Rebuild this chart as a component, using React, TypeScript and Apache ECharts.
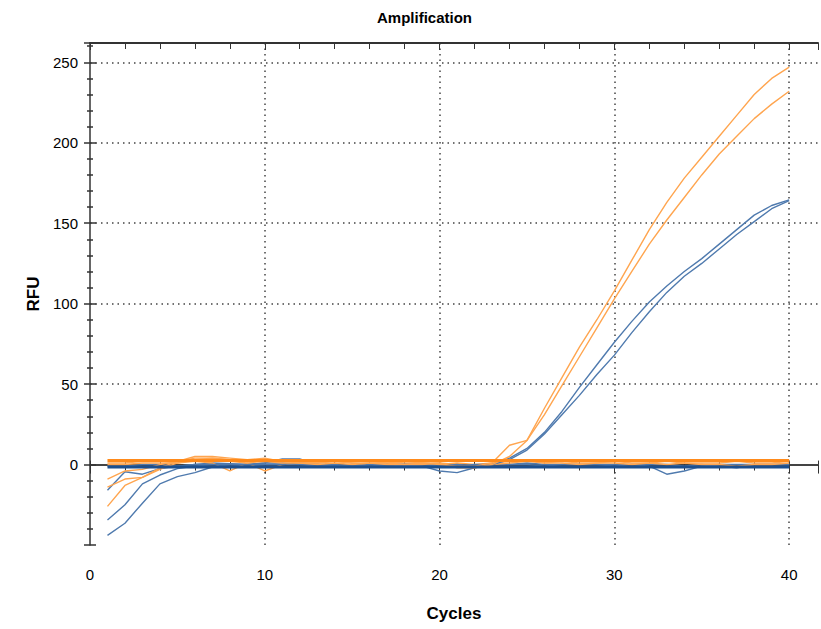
import React, { useEffect, useRef } from "react";
import * as echarts from "echarts";

const cycles = Array.from({ length: 40 }, (_, i) => i + 1);

const orangeUpper = [-26, -13, -8, -3, 1, 3, 3, 2, 1, 2, 1, 1, 0, 1, 0, 1, 0, 0, 1, 0, -1, -1, 1, 12, 15, 35, 54, 73, 90, 108, 127, 146, 163, 178, 191, 204, 217, 230, 240, 247];
const orangeLower = [-14, -9, -8, -2, 2, 4, 4, 3, 2, 3, 2, 1, 1, 2, 1, 1, 1, 0, 0, 1, -2, -2, 0, 5, 15, 31, 49, 67, 85, 103, 120, 137, 152, 166, 180, 193, 204, 215, 224, 232];
const orangeFlatA = [-9, -4, -3, 0, 2, 5, 5, 4, 3, 4, 2, 2, 1, 3, 2, 2, 1, 2, 1, 1, 0, -2, 0, 1, 2, 1, 2, 1, 1, 2, 1, 1, 2, 1, 1, 1, 2, 1, 1, 2];
const orangeFlatB = [0, 0, 1, 1, 1, 2, 1, -4, 1, -4, 0, 1, 1, 2, 1, 0, 2, 1, 1, 0, 1, 0, 1, 2, 3, 1, 1, 0, 1, 1, 0, 1, 0, 1, 0, 0, -1, 0, 0, 1];
const orangeFlatC = [1, 1, 2, 2, 3, 3, 4, 3, 3, 3, 2, 3, 2, 2, 3, 2, 3, 2, 2, 2, 3, 2, 2, 3, 2, 2, 3, 2, 2, 3, 2, 2, 2, 2, 3, 2, 2, 2, 2, 2];

const blueUpper = [-34.5, -25, -12, -6.5, -2.5, -1, 0, 0, 0, 1, 1, 0, 0, -1, 0, -1, 0, 0, 0, 0, -1, 0, 0, 4, 10, 20, 33, 48, 62, 76, 89, 101, 111, 120, 128, 137, 146, 155, 161, 164.5];
const blueLower = [-44, -36.5, -24, -12, -7.5, -5, -1.5, 0, 0, 0, 0, 1, 0, 0, -1, 0, 0, 0, 0, -1, 0, -1, 0, 3, 9, 19, 31, 43, 56, 68, 82, 95, 107, 117, 125, 134, 143, 151, 159, 164];
const blueFlatA = [-16, -4.5, -6, -2.5, -1, 0, 1, 0.5, 0, 1, 3.5, 3.5, 0, -1, -1, -1.5, 0, 0, -1, -4, -5, -2, 0, 0, 1, 0, 0, 0, 0, 0, 0, -1, -6, -4, -1, 0, 0, 0, 0, 0];
const blueFlatB = [-1, -1, 0, 0, -1, 0, 0, 0, -1, 0, 0, 0, -1, -1, 0, 0, 0, -1, 0, 0, -1, -1, 0, 0, 0, -1, 0, 0, 0, -1, 0, 0, 0, -1, 0, -1, -2, 0, 0, 0];

const orangeThreshold = 2.5;
const blueThreshold = -1.5;

const FONT = "'Liberation Sans', Arial, sans-serif";
const X_MAX = 41.65;

function App() {
  const ref = useRef<HTMLDivElement>(null);
  useEffect(() => {
    document.body.style.margin = "0";
    const chart = echarts.init(ref.current!, undefined, { renderer: "svg" });
    const pts = (arr: number[]) => arr.map((v, i) => [cycles[i], v]);
    const curve = (name: string, arr: number[], color: string) => ({
      name,
      type: "line",
      data: pts(arr),
      showSymbol: false,
      symbol: "none",
      lineStyle: { color, width: 1.4 },
      xAxisIndex: 0,
      yAxisIndex: 0,
      z: 3,
    });
    const thresh = (name: string, v: number, color: string) => ({
      name,
      type: "line",
      data: [[cycles[0], v], [cycles[cycles.length - 1], v]],
      showSymbol: false,
      symbol: "none",
      lineStyle: { color, width: 3 },
      xAxisIndex: 0,
      yAxisIndex: 0,
      z: 4,
    });
    const orange = "#FFA54F";
    const blue = "#4F7AAE";
    const xBase = { type: "value", min: 0, max: X_MAX, interval: 10 };
    const yBase = { type: "value", min: -50, max: 262, interval: 50 };
    chart.setOption({
      animation: false,
      backgroundColor: "#ffffff",
      title: {
        text: "Amplification",
        left: 372,
        top: 5,
        textStyle: { fontFamily: FONT, fontWeight: "bold", fontSize: 15, color: "#000" },
      },
      grid: { left: 90, right: 0, top: 43, bottom: 84, containLabel: false },
      xAxis: [
        {
          ...xBase,
          position: "bottom",
          name: "Cycles",
          nameLocation: "middle",
          nameGap: 60,
          nameTextStyle: { fontFamily: FONT, fontWeight: "bold", fontSize: 17, color: "#000" },
          axisLine: { show: true, lineStyle: { color: "#444", width: 2 } },
          axisTick: { show: true, inside: false, length: 9, lineStyle: { color: "#333" } },
          minorTick: { show: true, splitNumber: 5, length: 6, lineStyle: { color: "#333" } },
          axisLabel: {
            margin: 22,
            fontFamily: FONT,
            fontSize: 15,
            color: "#000",
            formatter: (v: number) => (v % 10 === 0 ? String(v) : ""),
          },
          splitLine: {
            show: true,
            showMaxLine: false,
            showMinLine: false,
            lineStyle: { color: "#444", type: [1.5, 4], width: 1.5 },
          },
        },
        {
          ...xBase,
          position: "bottom",
          axisLine: { show: false },
          axisTick: { show: true, inside: true, length: 4, lineStyle: { color: "#333" } },
          minorTick: { show: true, splitNumber: 5, length: 3, lineStyle: { color: "#333" } },
          axisLabel: { show: false },
          splitLine: { show: false },
        },
        {
          ...xBase,
          position: "top",
          axisLine: { show: true, lineStyle: { color: "#333", width: 2 } },
          axisTick: { show: true, inside: true, length: 7, lineStyle: { color: "#333" } },
          minorTick: { show: true, splitNumber: 5, length: 6, lineStyle: { color: "#333" } },
          axisLabel: { show: false },
          splitLine: { show: false },
        },
      ],
      yAxis: [
        {
          ...yBase,
          position: "left",
          name: "RFU",
          nameLocation: "middle",
          nameRotate: 90,
          nameGap: 48,
          nameTextStyle: { fontFamily: FONT, fontWeight: "bold", fontSize: 17, color: "#000" },
          axisLine: { show: true, lineStyle: { color: "#333", width: 1.5 } },
          axisTick: { show: true, inside: false, length: 6, lineStyle: { color: "#333", width: 1.5 } },
          minorTick: { show: true, splitNumber: 5, length: 3, lineStyle: { color: "#333", width: 1.5 } },
          axisLabel: {
            margin: 12,
            fontFamily: FONT,
            fontSize: 15,
            color: "#000",
            formatter: (v: number) => (v >= 0 && v % 50 === 0 ? String(v) : ""),
          },
          splitLine: {
            show: true,
            showMaxLine: false,
            showMinLine: false,
            lineStyle: { color: "#444", type: [1.5, 4], width: 1.5 },
          },
        },
        {
          ...yBase,
          position: "left",
          axisLine: { show: false },
          axisTick: { show: true, inside: true, length: 6, lineStyle: { color: "#333", width: 1.5 } },
          minorTick: { show: true, splitNumber: 5, length: 3, lineStyle: { color: "#333", width: 1.5 } },
          axisLabel: { show: false },
          splitLine: { show: false },
        },
      ],
      series: [
        curve("Blue flat B", blueFlatB, blue),
        curve("Blue flat A", blueFlatA, blue),
        curve("Orange flat A", orangeFlatA, orange),
        curve("Orange flat B", orangeFlatB, orange),
        curve("Orange flat C", orangeFlatC, orange),
        thresh("Orange threshold", orangeThreshold, "#FF8A1A"),
        thresh("Blue threshold", blueThreshold, "#1C4F8E"),
        curve("Blue upper", blueUpper, blue),
        curve("Blue lower", blueLower, blue),
        curve("Orange upper", orangeUpper, orange),
        curve("Orange lower", orangeLower, orange),
      ],
    });
    return () => chart.dispose();
  }, []);
  return (
    <div
      ref={ref}
      style={{ position: "absolute", left: 0, top: 0, width: 821, height: 629 }}
    />
  );
}

export default App;
